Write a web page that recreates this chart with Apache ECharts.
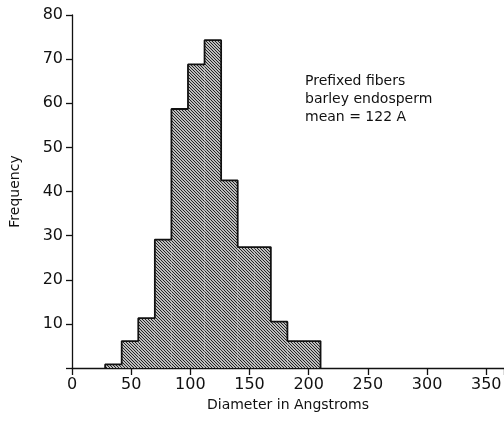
<!DOCTYPE html>
<html>
<head>
<meta charset="utf-8">
<script src="https://cdn.jsdelivr.net/npm/echarts@6/dist/echarts.min.js"></script>
<style>
html,body{margin:0;padding:0;background:#fff;}
#chart{width:504px;height:440px;}
</style>
</head>
<body>
<div id="chart"></div>
<script>
// Histogram bin edges (Angstroms) and frequencies
const binEdges = [28, 42, 56, 70, 84, 98, 112, 126, 140, 154, 168, 182, 196, 210];
const counts = [0.8, 6.1, 11.3, 29.1, 58.7, 68.8, 74.3, 42.5, 27.4, 27.4, 10.5, 6.1, 6.1];
const xTicks = [0, 50, 100, 150, 200, 250, 300, 350];
const yTicks = [10, 20, 30, 40, 50, 60, 70, 80];
const noteLines = ['Prefixed fibers', 'barley endosperm', 'mean = 122 A'];

// hatch pattern (diagonal "\" lines)
const S = 6;
const pc = document.createElement('canvas');
pc.width = S; pc.height = S;
const g = pc.getContext('2d');
g.fillStyle = '#fff'; g.fillRect(0, 0, S, S);
g.strokeStyle = '#1a1a1a'; g.lineWidth = 1.1;
g.beginPath();
for (let k = -S; k <= S; k += 3) {
  g.moveTo(-1, k - 1); g.lineTo(S + 1, k + S + 1);
}
g.stroke();

const barData = counts.map((c, i) => [binEdges[i], binEdges[i + 1], c]);
const outline = [[binEdges[0], 0]];
counts.forEach((c, i) => outline.push([binEdges[i], c]));
outline.push([binEdges[binEdges.length - 1], counts[counts.length - 1]]);
outline.push([binEdges[binEdges.length - 1], 0]);

const FONT = 'DejaVu Sans';
const chart = echarts.init(document.getElementById('chart'));
chart.setOption({
  animation: false,
  backgroundColor: '#fff',
  grid: { left: 72, right: 0, top: 15, bottom: 72, containLabel: false, outerBoundsMode: 'none' },
  xAxis: {
    type: 'value', min: 0, max: 365, interval: 50,
    name: 'Diameter in Angstroms', nameLocation: 'middle', nameGap: 29,
    nameTextStyle: { fontFamily: FONT, fontSize: 14, color: '#111' },
    axisLine: { lineStyle: { color: '#111', width: 1.3 } },
    axisTick: { show: true, length: 7, lineStyle: { color: '#111', width: 1.3 } },
    axisLabel: { fontFamily: FONT, fontSize: 16, color: '#111', margin: 9,
      formatter: v => xTicks.indexOf(v) >= 0 ? String(v) : '' },
    splitLine: { show: false }
  },
  yAxis: {
    type: 'value', min: 0, max: 80, interval: 10,
    name: 'Frequency', nameLocation: 'middle', nameGap: 50,
    nameTextStyle: { fontFamily: FONT, fontSize: 14, color: '#111' },
    axisLine: { show: true, lineStyle: { color: '#111', width: 1.3 } },
    axisTick: { show: true, length: 6, lineStyle: { color: '#111', width: 1.3 } },
    axisLabel: { fontFamily: FONT, fontSize: 16, color: '#111', margin: 9,
      formatter: v => yTicks.indexOf(v) >= 0 ? String(v) : '' },
    splitLine: { show: false }
  },
  graphic: [{
    type: 'text', left: 305, top: 72,
    style: { text: noteLines.join('\n'), font: '14px "DejaVu Sans"', fill: '#111', lineHeight: 18 }
  }],
  series: [{
    type: 'custom',
    data: barData,
    encode: { x: [0, 1], y: 2 },
    renderItem: function (params, api) {
      const p0 = api.coord([api.value(0), api.value(2)]);
      const p1 = api.coord([api.value(1), 0]);
      return {
        type: 'rect',
        shape: { x: p0[0], y: p0[1], width: p1[0] - p0[0], height: p1[1] - p0[1] },
        style: { fill: { image: pc, repeat: 'repeat' }, stroke: null }
      };
    }
  }, {
    type: 'line', data: outline, step: 'end', symbol: 'none',
    lineStyle: { color: '#111', width: 1.8 }, z: 5
  }]
});
</script>
</body>
</html>
